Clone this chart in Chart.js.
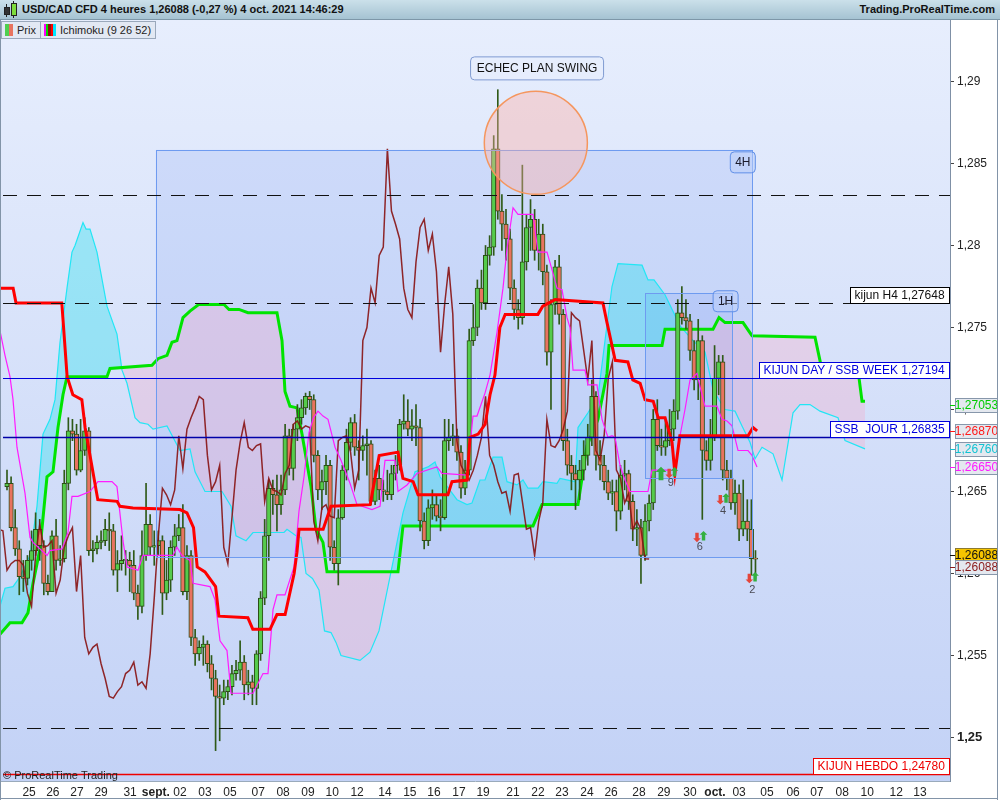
<!DOCTYPE html>
<html><head><meta charset="utf-8"><title>USD/CAD CFD 4 heures</title>
<script src="https://cdn.jsdelivr.net/npm/chart.js@4.4.1/dist/chart.umd.min.js"></script>
<style>
html,body{margin:0;padding:0;background:#fff;}
body{width:1000px;height:800px;position:relative;overflow:hidden;font-family:"Liberation Sans",Arial,Helvetica,sans-serif;}
#hdr{position:absolute;left:0;top:0;width:1000px;height:20px;background:linear-gradient(#cbe0ea,#a5c3d2);border-bottom:1px solid #7d97a8;box-sizing:border-box;font-weight:bold;font-size:11px;color:#111;z-index:2;}
#hdr .t1{position:absolute;left:22px;top:3px;white-space:nowrap;}
#hdr .t2{position:absolute;right:5px;top:3px;white-space:nowrap;}
.ico{position:absolute;width:4px;border:1px solid #222;}
.wk{position:absolute;width:1px;background:#222;}
#leg{position:absolute;left:1px;top:21px;height:18px;font-size:11px;color:#222;z-index:2;}
.btn{float:left;height:16px;line-height:16px;border:1px solid #9aa8bb;background:#e2e8f3;padding:0 4px 0 3px;margin-right:-1px;}
.sw{display:inline-block;height:12px;vertical-align:-2px;}
#cv{position:absolute;left:0;top:20px;}
</style></head>
<body>
<div id="hdr">
 <span class="wk" style="left:6px;top:4px;height:13px"></span>
 <span class="ico" style="left:4px;top:7px;height:6px;background:#333"></span>
 <span class="wk" style="left:13px;top:1px;height:17px"></span>
 <span class="ico" style="left:11px;top:3px;height:11px;background:#7ddc3c"></span>
 <span class="t1">USD/CAD CFD 4 heures 1,26088 (-0,27 %) 4 oct. 2021 14:46:29</span>
 <span class="t2">Trading.ProRealTime.com</span>
</div>
<canvas id="cv" width="1000" height="780"></canvas>
<div id="leg">
 <span class="btn"><span class="sw" style="width:4px;background:#4fcf4f"></span><span class="sw" style="width:4px;background:#e8735f;margin-right:4px"></span>Prix</span>
 <span class="btn"><span class="sw" style="width:2px;background:#ff00ff"></span><span class="sw" style="width:2px;background:#00dd00"></span><span class="sw" style="width:3px;background:#8b1010"></span><span class="sw" style="width:2px;background:#ff0000"></span><span class="sw" style="width:3px;background:#00e5ff;margin-right:4px"></span>Ichimoku (9 26 52)</span>
</div>
<script>
// ---------- DATA (USD/CAD 4h candles) ----------
const opens=[
1.2653,1.2655,1.2628,1.2615,1.2598,1.2597,1.2608,1.2614,1.2627,1.2617,
1.2594,1.2589,1.2623,1.2608,1.2609,1.2655,1.2687,1.2685,1.2663,1.2675,
1.2687,1.2614,1.2615,1.2619,1.2620,1.2627,1.2626,1.2602,1.2606,1.2608,
1.2608,1.2605,1.2588,1.2580,1.2611,1.2630,1.2616,1.2617,1.2620,1.2588,
1.2596,1.2616,1.2623,1.2628,1.2589,1.2611,1.2561,1.2551,1.2555,1.2557,
1.2545,1.2536,1.2525,1.2524,1.2528,1.2531,1.2539,1.2541,1.2546,1.2532,
1.2534,1.2530,1.2551,1.2585,1.2623,1.2652,1.2648,1.2642,1.2651,1.2684,
1.2664,1.2688,1.2695,1.2701,1.2708,1.2706,1.2672,1.2651,1.2656,1.2666,
1.2616,1.2606,1.2634,1.2663,1.2680,1.2692,1.2677,1.2675,1.2678,1.2679,
1.2644,1.2658,1.2651,1.2650,1.2648,1.2661,1.2666,1.2691,1.2693,1.2688,
1.2690,1.2689,1.2632,1.2620,1.2640,1.2642,1.2635,1.2634,1.2681,1.2683,
1.2684,1.2674,1.2652,1.2663,1.2742,1.2750,1.2774,1.2765,1.2794,1.2799,
1.2859,1.2821,1.2813,1.2804,1.2774,1.2761,1.2756,1.2790,1.2811,1.2816,
1.2797,1.2807,1.2784,1.2735,1.2764,1.2787,1.2758,1.2681,1.2666,1.2661,
1.2657,1.2663,1.2672,1.2683,1.2708,1.2672,1.2666,1.2656,1.2649,1.2650,
1.2638,1.2660,1.2661,1.2644,1.2627,1.2628,1.2611,1.2632,1.2643,1.2694,
1.2678,1.2677,1.2681,1.2688,1.2699,1.2759,1.2756,1.2754,1.2736,1.2718,
1.2742,1.2675,1.2669,1.2684,1.2719,1.2729,1.2663,1.2658,1.2643,1.2649,
1.2627,1.2632,1.2627,1.2609];
const highs=[
1.2663,1.2659,1.2639,1.2620,1.2608,1.2611,1.2626,1.2637,1.2633,1.2620,
1.2599,1.2626,1.2633,1.2617,1.2663,1.2695,1.2694,1.2691,1.2694,1.2695,
1.2689,1.2620,1.2623,1.2626,1.2633,1.2637,1.2630,1.2614,1.2623,1.2614,
1.2613,1.2614,1.2593,1.2626,1.2655,1.2636,1.2626,1.2626,1.2623,1.2608,
1.2620,1.2630,1.2636,1.2642,1.2617,1.2614,1.2566,1.2559,1.2562,1.2559,
1.2550,1.2541,1.2532,1.2535,1.2535,1.2544,1.2547,1.2559,1.2550,1.2541,
1.2538,1.2553,1.2589,1.2633,1.2657,1.2657,1.2660,1.2660,1.2691,1.2688,
1.2691,1.2703,1.2706,1.2710,1.2711,1.2709,1.2675,1.2663,1.2672,1.2669,
1.2620,1.2639,1.2666,1.2688,1.2695,1.2697,1.2681,1.2684,1.2688,1.2681,
1.2663,1.2666,1.2657,1.2663,1.2666,1.2672,1.2694,1.2709,1.2706,1.2700,
1.2703,1.2694,1.2637,1.2645,1.2651,1.2648,1.2645,1.2694,1.2694,1.2691,
1.2688,1.2678,1.2669,1.2749,1.2764,1.2779,1.2785,1.2800,1.2806,1.2867,
1.2895,1.2831,1.2822,1.2810,1.2779,1.2767,1.2849,1.2819,1.2828,1.2822,
1.2816,1.2813,1.2788,1.2767,1.2791,1.2794,1.2761,1.2688,1.2672,1.2666,
1.2669,1.2681,1.2691,1.2718,1.2711,1.2681,1.2672,1.2663,1.2657,1.2657,
1.2666,1.2669,1.2663,1.2648,1.2639,1.2633,1.2642,1.2648,1.2700,1.2706,
1.2688,1.2694,1.2700,1.2706,1.2767,1.2775,1.2767,1.2758,1.2742,1.2755,
1.2745,1.2681,1.2694,1.2739,1.2733,1.2733,1.2669,1.2663,1.2657,1.2654,
1.2657,1.2645,1.2645,1.2614];
const lows=[
1.2651,1.2626,1.2611,1.2587,1.2589,1.2593,1.2602,1.2611,1.2608,1.2587,
1.2587,1.2589,1.2602,1.2605,1.2607,1.2651,1.2681,1.2660,1.2662,1.2672,
1.2611,1.2607,1.2612,1.2615,1.2617,1.2614,1.2599,1.2589,1.2602,1.2599,
1.2589,1.2584,1.2572,1.2576,1.2608,1.2611,1.2605,1.2611,1.2575,1.2584,
1.2589,1.2611,1.2620,1.2587,1.2584,1.2556,1.2544,1.2547,1.2544,1.2540,
1.2529,1.2492,1.2498,1.2520,1.2523,1.2526,1.2535,1.2535,1.2523,1.2526,
1.2520,1.2520,1.2547,1.2581,1.2608,1.2636,1.2626,1.2636,1.2648,1.2660,
1.2657,1.2681,1.2691,1.2697,1.2700,1.2668,1.2645,1.2639,1.2648,1.2608,
1.2602,1.2593,1.2633,1.2657,1.2675,1.2672,1.2657,1.2669,1.2660,1.2642,
1.2642,1.2645,1.2644,1.2645,1.2645,1.2657,1.2663,1.2688,1.2684,1.2681,
1.2678,1.2626,1.2615,1.2617,1.2633,1.2632,1.2626,1.2633,1.2675,1.2678,
1.2669,1.2646,1.2648,1.2660,1.2739,1.2745,1.2761,1.2761,1.2788,1.2794,
1.2816,1.2797,1.2791,1.2767,1.2755,1.2749,1.2752,1.2785,1.2797,1.2791,
1.2785,1.2776,1.2727,1.2700,1.2758,1.2752,1.2675,1.2660,1.2651,1.2639,
1.2645,1.2657,1.2666,1.2678,1.2663,1.2657,1.2651,1.2645,1.2642,1.2626,
1.2633,1.2651,1.2639,1.2620,1.2617,1.2594,1.2608,1.2626,1.2639,1.2675,
1.2672,1.2672,1.2678,1.2681,1.2694,1.2752,1.2749,1.2730,1.2712,1.2706,
1.2633,1.2663,1.2663,1.2681,1.2709,1.2657,1.2651,1.2639,1.2636,1.2620,
1.2623,1.2620,1.2599,1.2597];
const closes=[
1.2655,1.2628,1.2615,1.2598,1.2597,1.2608,1.2614,1.2627,1.2617,1.2594,
1.2589,1.2623,1.2608,1.2609,1.2655,1.2687,1.2685,1.2663,1.2675,1.2687,
1.2614,1.2615,1.2619,1.2620,1.2627,1.2626,1.2602,1.2606,1.2608,1.2608,
1.2605,1.2588,1.2580,1.2611,1.2630,1.2616,1.2617,1.2620,1.2588,1.2596,
1.2616,1.2623,1.2628,1.2589,1.2611,1.2561,1.2551,1.2555,1.2557,1.2545,
1.2536,1.2525,1.2524,1.2528,1.2531,1.2539,1.2541,1.2546,1.2532,1.2534,
1.2530,1.2551,1.2585,1.2623,1.2652,1.2648,1.2642,1.2651,1.2684,1.2664,
1.2688,1.2695,1.2701,1.2708,1.2706,1.2672,1.2651,1.2656,1.2666,1.2616,
1.2606,1.2634,1.2663,1.2680,1.2692,1.2677,1.2675,1.2678,1.2679,1.2644,
1.2658,1.2651,1.2650,1.2648,1.2661,1.2666,1.2691,1.2693,1.2688,1.2690,
1.2689,1.2632,1.2620,1.2640,1.2642,1.2635,1.2634,1.2681,1.2683,1.2684,
1.2674,1.2652,1.2663,1.2742,1.2750,1.2774,1.2765,1.2794,1.2799,1.2859,
1.2821,1.2813,1.2804,1.2774,1.2761,1.2756,1.2790,1.2811,1.2816,1.2797,
1.2807,1.2784,1.2735,1.2764,1.2787,1.2758,1.2681,1.2666,1.2661,1.2657,
1.2663,1.2672,1.2683,1.2708,1.2672,1.2666,1.2656,1.2649,1.2650,1.2638,
1.2660,1.2661,1.2644,1.2627,1.2628,1.2611,1.2632,1.2643,1.2694,1.2678,
1.2677,1.2681,1.2688,1.2699,1.2759,1.2756,1.2754,1.2736,1.2718,1.2742,
1.2675,1.2669,1.2684,1.2719,1.2729,1.2663,1.2658,1.2643,1.2649,1.2627,
1.2632,1.2627,1.2609,1.26088];

// Ichimoku (9 26 52) lines: [candle index, price]
const kijun=[[-1.71,1.2774],[1.5,1.2774],[2.2,1.2765],[13.4,1.2765],[14.7,1.2720],[16.1,1.2709],[18.3,1.2706],[19.1,1.2689],[20.3,1.2672],[22.2,1.2645],[26.9,1.2644],[27.6,1.2641],[30.8,1.2640],[42.3,1.2639],[44.0,1.2637],[45.6,1.2628],[46.5,1.2604],[48.4,1.2601],[51.0,1.2592],[51.8,1.2574],[58.9,1.2573],[60.1,1.2566],[64.3,1.2566],[66.0,1.2575],[68.0,1.2575],[70.2,1.2600],[70.9,1.2613],[71.4,1.2627],[77.3,1.2627],[79.2,1.2641],[88.8,1.2642],[91.0,1.2672],[95.6,1.2674],[96.8,1.2658],[99.3,1.2656],[100.5,1.2648],[107.8,1.2648],[108.8,1.2656],[112.5,1.2657],[113.2,1.2683],[115.2,1.2685],[116.9,1.2691],[118.1,1.2709],[119.3,1.2721],[120.5,1.2750],[121.8,1.2758],[129.8,1.2758],[131.0,1.2763],[134.0,1.2767],[145.7,1.2765],[146.7,1.2753],[148.7,1.2730],[151.8,1.2729],[153.0,1.2718],[154.8,1.2716],[156.0,1.2706],[158.0,1.2705],[159.2,1.2695],[160.9,1.2695],[162.6,1.2680],[163.3,1.2661],[164.5,1.2684],[165.3,1.2684],[181.2,1.2684],[182.4,1.2689],[183.4,1.2687]];
const tenkan=[[-1.71,1.2748],[-0.49,1.2733],[0.73,1.2720],[1.47,1.2706],[2.44,1.2677],[4.40,1.2649],[5.62,1.2622],[6.36,1.2619],[9.78,1.2611],[10.51,1.2614],[13.45,1.2615],[14.91,1.2625],[15.89,1.2647],[17.36,1.2647],[20.29,1.2650],[22.25,1.2656],[25.67,1.2656],[26.89,1.2653],[28.36,1.2620],[29.34,1.2604],[32.03,1.2602],[33.25,1.2611],[40.59,1.2611],[41.56,1.2616],[42.79,1.2611],[44.74,1.2608],[45.48,1.2594],[49.63,1.2592],[50.86,1.2584],[52.08,1.2559],[53.79,1.2553],[54.77,1.2527],[60.15,1.2527],[62.59,1.2539],[63.81,1.2539],[65.04,1.2578],[66.01,1.2587],[67.97,1.2587],[70.17,1.2604],[71.39,1.2638],[72.62,1.2659],[73.84,1.2686],[74.94,1.2695],[76.04,1.2699],[77.26,1.2696],[78.48,1.2694],[80.20,1.2677],[81.66,1.2669],[83.86,1.2655],[85.57,1.2642],[89.24,1.2639],[91.20,1.2641],[92.42,1.2669],[94.87,1.2669],[95.60,1.2650],[97.80,1.2654],[100.24,1.2661],[103.91,1.2664],[105.13,1.2665],[106.36,1.2661],[112.47,1.2660],[113.94,1.2696],[114.91,1.2696],[116.87,1.2710],[118.09,1.2721],[119.80,1.2747],[121.27,1.2774],[122.25,1.2798],[123.72,1.2823],[124.94,1.2819],[128.61,1.2819],[129.83,1.2796],[132.03,1.2796],[133.50,1.2783],[134.47,1.2774],[135.70,1.2773],[136.92,1.2756],[137.65,1.2750],[138.39,1.2724],[141.32,1.2724],[142.05,1.2715],[144.25,1.2715],[145.48,1.2694],[146.94,1.2683],[147.92,1.2684],[148.66,1.2683],[149.88,1.2666],[151.10,1.2657],[152.32,1.2650],[156.72,1.2650],[157.70,1.2663],[163.33,1.2663],[164.55,1.2684],[165.77,1.2700],[166.99,1.2718],[168.70,1.2722],[169.44,1.2714],[170.66,1.2702],[173.59,1.2702],[174.82,1.2694],[176.04,1.2693],[177.26,1.2690],[178.73,1.2675],[181.17,1.2675],[182.15,1.2672],[183.37,1.2665]];
const ssa=[[-1.71,1.2580],[-0.49,1.2591],[1.47,1.2592],[3.18,1.2598],[5.62,1.2611],[7.33,1.2641],[8.80,1.2685],[10.51,1.2694],[11.74,1.2706],[12.96,1.2741],[14.67,1.2774],[15.89,1.2796],[16.63,1.2800],[18.58,1.2814],[19.32,1.2810],[20.29,1.2810],[22.00,1.2796],[24.45,1.2763],[26.89,1.2746],[28.12,1.2724],[29.34,1.2716],[31.30,1.2695],[32.52,1.2692],[34.47,1.2691],[35.70,1.2688],[39.12,1.2690],[42.30,1.2675],[44.74,1.2676],[45.97,1.2662],[48.41,1.2650],[52.57,1.2650],[54.77,1.2641],[55.99,1.2623],[58.44,1.2620],[60.15,1.2625],[67.73,1.2625],[68.46,1.2627],[70.66,1.2623],[71.88,1.2622],[73.11,1.2600],[74.69,1.2597],[76.28,1.2590],[77.63,1.2565],[79.22,1.2564],[80.44,1.2558],[81.66,1.2550],[86.31,1.2547],[88.75,1.2552],[90.95,1.2565],[96.82,1.2637],[99.76,1.2662],[102.93,1.2665],[104.65,1.2668],[105.87,1.2659],[110.02,1.2645],[112.47,1.2642],[113.69,1.2643],[115.65,1.2657],[116.87,1.2657],[118.83,1.2671],[121.03,1.2671],[122.25,1.2656],[124.69,1.2654],[126.16,1.2657],[127.38,1.2652],[129.83,1.2652],[131.05,1.2656],[134.47,1.2655],[135.21,1.2658],[138.88,1.2656],[139.61,1.2689],[142.05,1.2698],[144.50,1.2708],[146.21,1.2742],[147.92,1.2775],[149.39,1.2789],[155.26,1.2788],[156.72,1.2779],[158.19,1.2779],[160.88,1.2770],[164.55,1.2751],[167.73,1.2742],[170.66,1.2735],[172.62,1.2712],[175.55,1.2700],[178.00,1.2699],[179.71,1.2690],[181.66,1.2680],[182.89,1.2670],[184.60,1.2677],[187.29,1.2673],[189.49,1.2657],[192.18,1.2698],[193.89,1.2703],[196.33,1.2703],[198.78,1.2699],[203.18,1.2695],[204.89,1.2681],[209.78,1.2676]];
const ssb=[[-1.71,1.2563],[0.73,1.2570],[3.67,1.2570],[5.13,1.2576],[6.36,1.2594],[8.07,1.2615],[9.78,1.2659],[11.25,1.2662],[12.47,1.2689],[13.69,1.2709],[14.67,1.2720],[24.45,1.2720],[25.18,1.2725],[35.45,1.2727],[36.92,1.2731],[39.12,1.2733],[40.34,1.2741],[41.56,1.2742],[43.03,1.2756],[44.74,1.2760],[46.85,1.2764],[53.06,1.2764],[54.28,1.2761],[56.72,1.2761],[58.92,1.2759],[66.01,1.2759],[67.24,1.2742],[67.97,1.2711],[69.19,1.2702],[70.90,1.2701],[72.13,1.2685],[74.33,1.2653],[75.55,1.2627],[77.26,1.2619],[78.24,1.2601],[95.60,1.2601],[96.82,1.2629],[128.61,1.2629],[130.81,1.2642],[139.61,1.2642],[141.81,1.2678],[144.50,1.2694],[146.70,1.2722],[147.19,1.2739],[160.15,1.2739],[160.88,1.2749],[172.62,1.2749],[174.08,1.2756],[175.55,1.2753],[179.95,1.2753],[182.15,1.2745],[197.56,1.2744],[199.27,1.2724],[208.07,1.2724],[209.05,1.2705],[209.78,1.2705]];
const chikouShift=26;

// axes
const yTicks=[1.25,1.255,1.26,1.265,1.27,1.275,1.28,1.285,1.29];
const xTickIdx=[5.4,11.2,17.1,23.0,30.1,36.4,42.3,48.4,54.5,61.4,67.5,73.6,79.5,85.6,92.4,98.5,104.4,110.5,116.4,123.7,129.8,135.7,141.8,147.7,154.5,160.6,167.0,173.1,179.0,185.8,192.2,198.0,204.2,210.3,217.4,223.2];
const xTickLabels=['25','26','27','29','31','sept.','02','03','05','07','08','09','10','12','14','15','16','17','19','21','22','23','24','26','28','29','30','oct.','03','05','06','07','08','10','12','13'];

// drawn objects
const levelValues=[1.28308,1.27648,1.27194,1.26835,1.25058,1.24780];
const levelLabels=['','kijun H4 1,27648','KIJUN DAY / SSB WEEK 1,27194','SSB  JOUR 1,26835','','KIJUN HEBDO 1,24780'];
const boxLeft=[36.4,156.0], boxRight=[182.2,177.3], boxTop=[1.28583,1.2771], boxBottom=[1.2610,1.2658];
const boxTagText=['4H','1H'], boxTagIdx=[179.9,175.7], boxTagPrice=[1.28507,1.2766];
const noteText=['ECHEC PLAN SWING'], noteIdx=[129.6], notePrice=[1.2908];
const circleIdx=[129.3], circlePrice=[1.28626], circleRadiusIdx=[12.6];
const sigIdx=[159.9,161.9,163.2,168.7,170.3,174.4,175.8,181.5,182.9];
const sigPrice=[1.2661,1.2661,1.2662,1.2622,1.2623,1.2645,1.2646,1.2597,1.2598];
const sigDir=['up','down','up','down','up','down','up','down','up'];
const cntIdx=[162.3,169.4,175.1,182.2], cntPrice=[1.2655,1.2616,1.2638,1.2590], cntText=['9','6','4','2'];
const tagValues=[1.27053,1.26870,1.26760,1.26650,1.26088,1.26088];

// ---------- STYLES ----------
const FONT='"Liberation Sans", Arial, Helvetica, sans-serif';
Chart.defaults.font.family=FONT; Chart.defaults.font.size=12; Chart.defaults.color='#222';
const BULL='#55cb4b', BEAR='#e8735f', EDGE='#2c4e16', WICK='#2f5a18';
const levelStyle=[
 {c:'#111',w:1,d:[14,10],t:'#111'},
 {c:'#111',w:1,d:[14,10],t:'#111'},
 {c:'#0000dd',w:1,d:[],t:'#0000dd'},
 {c:'#0000a8',w:1.5,d:[],t:'#0000dd'},
 {c:'#111',w:1,d:[14,10],t:'#111'},
 {c:'#ee0000',w:1.5,d:[],t:'#ee0000'}];
const tagColor=['#00cc00','#ff1a1a','#10c2d2','#ff1aff','#111111','#8b1a1a'];
const tagFill=['#e4e8ef','#e4e8ef','#e4e8ef','#e4e8ef','#f5c400','#e4e8ef'];
const tagShift=[4,0,0,0,-4,8];

const fmt5=v=>v.toFixed(5).replace('.',',');
const fmtTick=v=>String(+v.toFixed(3)).replace('.',',');
const pts=a=>a.map(p=>({x:p[0],y:p[1]}));
const N=closes.length;
const wickData=[],bodyData=[],bodyCol=[];
for(let i=0;i<N;i++){
  wickData.push({x:i,y:[lows[i],highs[i]]});
  bodyData.push({x:i,y:[opens[i],closes[i]]});
  bodyCol.push(closes[i]>=opens[i]?BULL:BEAR);
}
const chikouData=closes.map((c,i)=>({x:i-chikouShift,y:c}));

function rrect(ctx,x,y,w,h,r){
  ctx.beginPath();ctx.moveTo(x+r,y);ctx.lineTo(x+w-r,y);ctx.quadraticCurveTo(x+w,y,x+w,y+r);
  ctx.lineTo(x+w,y+h-r);ctx.quadraticCurveTo(x+w,y+h,x+w-r,y+h);ctx.lineTo(x+r,y+h);
  ctx.quadraticCurveTo(x,y+h,x,y+h-r);ctx.lineTo(x,y+r);ctx.quadraticCurveTo(x,y,x+r,y);ctx.closePath();
}
function arrow(ctx,x,y,dir,s){
  const w=4*s,h=5*s,st=1.8*s;
  ctx.beginPath();
  if(dir==='up'){
    ctx.moveTo(x,y-h);ctx.lineTo(x+w,y-h+w);ctx.lineTo(x+st,y-h+w);ctx.lineTo(x+st,y+h);
    ctx.lineTo(x-st,y+h);ctx.lineTo(x-st,y-h+w);ctx.lineTo(x-w,y-h+w);
  }else{
    ctx.moveTo(x,y+h);ctx.lineTo(x+w,y+h-w);ctx.lineTo(x+st,y+h-w);ctx.lineTo(x+st,y-h);
    ctx.lineTo(x-st,y-h);ctx.lineTo(x-st,y+h-w);ctx.lineTo(x-w,y+h-w);
  }
  ctx.closePath();ctx.fill();
}

const deco={
 id:'deco',
 beforeDraw(c){
   const {ctx,chartArea:a}=c;
   ctx.save();
   ctx.fillStyle='#fff';ctx.fillRect(0,0,c.width,c.height);
   const g=ctx.createLinearGradient(0,a.top,0,a.bottom);
   g.addColorStop(0,'#e7eefd');g.addColorStop(1,'#c3d2f6');
   ctx.fillStyle=g;ctx.fillRect(a.left,a.top,a.right-a.left,a.bottom-a.top);
   ctx.restore();
 },
 beforeDatasetsDraw(c){
   const {ctx,chartArea:a}=c,xs=c.scales.x,ys=c.scales.y;
   ctx.save();ctx.beginPath();ctx.rect(a.left,a.top,a.right-a.left,a.bottom-a.top);ctx.clip();
   for(let k=0;k<boxLeft.length;k++){
     const x0=xs.getPixelForValue(boxLeft[k]),x1=xs.getPixelForValue(boxRight[k]);
     const y0=ys.getPixelForValue(boxTop[k]),y1=ys.getPixelForValue(boxBottom[k]);
     ctx.fillStyle='rgba(105,145,245,0.16)';ctx.fillRect(x0,y0,x1-x0,y1-y0);
   }
   ctx.restore();
 },
 afterDatasetsDraw(c){
   const {ctx,chartArea:a}=c,xs=c.scales.x,ys=c.scales.y;
   ctx.save();ctx.beginPath();ctx.rect(a.left,a.top,a.right-a.left,a.bottom-a.top);ctx.clip();
   ctx.strokeStyle='#6e9bf0';ctx.lineWidth=1;
   for(let k=0;k<boxLeft.length;k++){
     const x0=Math.round(xs.getPixelForValue(boxLeft[k]))+0.5,x1=Math.round(xs.getPixelForValue(boxRight[k]))+0.5;
     const y0=Math.round(ys.getPixelForValue(boxTop[k]))+0.5,y1=Math.round(ys.getPixelForValue(boxBottom[k]))+0.5;
     ctx.strokeRect(x0,y0,x1-x0,y1-y0);
   }
   for(let k=0;k<circleIdx.length;k++){
     const cx=xs.getPixelForValue(circleIdx[k]),cy=ys.getPixelForValue(circlePrice[k]);
     const r=Math.abs(xs.getPixelForValue(circleIdx[k]+circleRadiusIdx[k])-cx);
     ctx.beginPath();ctx.arc(cx,cy,r,0,Math.PI*2);
     ctx.fillStyle='rgba(255,176,166,0.40)';ctx.fill();
     ctx.strokeStyle='#f5965e';ctx.lineWidth=1.5;ctx.stroke();
   }
   ctx.font='12px '+FONT;ctx.textBaseline='middle';
   for(let k=0;k<levelValues.length;k++){
     const s=levelStyle[k];const y=Math.round(ys.getPixelForValue(levelValues[k]))+0.5;
     ctx.strokeStyle=s.c;ctx.lineWidth=s.w;ctx.setLineDash(s.d);
     ctx.beginPath();ctx.moveTo(a.left+3,y);ctx.lineTo(a.right,y);ctx.stroke();ctx.setLineDash([]);
   }
   for(let k=0;k<levelValues.length;k++){
     if(!levelLabels[k])continue;
     const s=levelStyle[k];const y=Math.round(ys.getPixelForValue(levelValues[k]))+0.5;
     const w=Math.ceil(ctx.measureText(levelLabels[k]).width)+8;
     const x0=a.right-w-0.5;
     ctx.fillStyle='#fff';ctx.fillRect(x0,y-16,w,16);
     ctx.strokeStyle=s.c==='#111'?'#000':s.t;ctx.lineWidth=1;ctx.strokeRect(x0,y-16,w,16);
     ctx.fillStyle=s.t;ctx.textAlign='left';ctx.fillText(levelLabels[k],x0+4,y-7.5);
   }
   for(let k=0;k<boxTagText.length;k++){
     const x=xs.getPixelForValue(boxTagIdx[k]),y=ys.getPixelForValue(boxTagPrice[k]);
     const w=Math.ceil(ctx.measureText(boxTagText[k]).width)+9,h=21;
     rrect(ctx,x-w/2,y-h/2,w,h,4);ctx.fillStyle='rgba(185,205,250,0.55)';ctx.fill();
     ctx.strokeStyle='#5f8fe8';ctx.lineWidth=1;ctx.stroke();
     ctx.fillStyle='#1a1a2a';ctx.textAlign='center';ctx.fillText(boxTagText[k],x,y+0.5);
   }
   for(let k=0;k<noteText.length;k++){
     const x=xs.getPixelForValue(noteIdx[k]),y=ys.getPixelForValue(notePrice[k]);
     const w=Math.ceil(ctx.measureText(noteText[k]).width)+12,h=23;
     rrect(ctx,x-w/2,y-h/2,w,h,4);ctx.fillStyle='rgba(230,237,253,0.9)';ctx.fill();
     ctx.strokeStyle='#7f9bd2';ctx.lineWidth=1;ctx.stroke();
     ctx.fillStyle='#111';ctx.textAlign='center';ctx.fillText(noteText[k],x,y+0.5);
   }
   for(let k=0;k<sigIdx.length;k++){
     const x=xs.getPixelForValue(sigIdx[k]),y=ys.getPixelForValue(sigPrice[k]);
     ctx.fillStyle=sigDir[k]==='up'?'#33b040':'#e4453a';
     arrow(ctx,x,y,sigDir[k],k===0?1.35:0.95);
   }
   ctx.font='11px '+FONT;ctx.fillStyle='#4a4a55';ctx.textAlign='center';
   for(let k=0;k<cntText.length;k++){
     ctx.fillText(cntText[k],xs.getPixelForValue(cntIdx[k]),ys.getPixelForValue(cntPrice[k]));
   }
   ctx.restore();
 },
 afterDraw(c){
   const {ctx,chartArea:a}=c,ys=c.scales.y;
   ctx.save();
   ctx.font='12px '+FONT;ctx.textBaseline='middle';ctx.textAlign='center';
   for(let k=0;k<tagValues.length;k++){
     const y=Math.round(ys.getPixelForValue(tagValues[k]))+tagShift[k];
     ctx.strokeStyle=tagColor[k];ctx.lineWidth=1;
     ctx.beginPath();ctx.moveTo(a.right,y+0.5);ctx.lineTo(a.right+5,y+0.5);ctx.stroke();
     ctx.fillStyle=tagFill[k];ctx.fillRect(a.right+5.5,y-6.5,42,14);
     ctx.strokeStyle=k===4?'#8c7a30':'#8797ab';ctx.strokeRect(a.right+5.5,y-6.5,42,14);
     ctx.fillStyle=tagColor[k];ctx.fillText(fmt5(tagValues[k]),a.right+26.5,y+1);
   }
   ctx.font='11px '+FONT;ctx.textAlign='left';ctx.fillStyle='#222';
   ctx.fillText('\u00a9 ProRealTime Trading',3,a.bottom-5);
   ctx.strokeStyle='#8294a8';ctx.lineWidth=1;
   ctx.beginPath();ctx.moveTo(0.5,0);ctx.lineTo(0.5,c.height);
   ctx.moveTo(997.5,0);ctx.lineTo(997.5,c.height);
   ctx.moveTo(0,c.height-1.5);ctx.lineTo(998,c.height-1.5);ctx.stroke();
   ctx.restore();
 }
};

new Chart(document.getElementById('cv'),{
 type:'bar',
 data:{datasets:[
  {type:'line',label:'SSA',data:pts(ssa),borderColor:'#22e6f5',borderWidth:1.2,pointRadius:0,tension:0,
   fill:{target:1,above:'rgba(0,225,235,0.30)',below:'rgba(250,165,195,0.30)'},order:10},
  {type:'line',label:'SSB',data:pts(ssb),borderColor:'#00e400',borderWidth:3,pointRadius:0,tension:0,fill:false,order:9},
  {type:'bar',label:'wick',data:wickData,backgroundColor:WICK,borderWidth:0,barThickness:1,grouped:false,order:8},
  {type:'bar',label:'Prix',data:bodyData,backgroundColor:bodyCol,borderColor:EDGE,borderWidth:1,borderSkipped:false,
   barThickness:4.5,minBarLength:1,grouped:false,order:7},
  {type:'line',label:'Chikou',data:chikouData,borderColor:'rgba(135,18,18,0.9)',borderWidth:1.5,pointRadius:0,tension:0,fill:false,order:4},
  {type:'line',label:'Tenkan',data:pts(tenkan),borderColor:'#ff1cff',borderWidth:1.2,pointRadius:0,tension:0,fill:false,order:3},
  {type:'line',label:'Kijun',data:pts(kijun),borderColor:'#ff0000',borderWidth:3,pointRadius:0,tension:0,fill:false,order:2}
 ]},
 options:{
  responsive:false,animation:false,
  layout:{padding:0},
  plugins:{legend:{display:false},tooltip:{enabled:false}},
  scales:{
   x:{type:'linear',min:-1.711,max:230.56,offset:false,
      afterBuildTicks:s=>{s.ticks=xTickIdx.map(v=>({value:v}));},
      afterFit:s=>{s.height=19;s.paddingLeft=0;s.paddingRight=0;},
      grid:{drawOnChartArea:false,drawTicks:false},
      border:{display:true,color:'#9aaabb'},
      ticks:{autoSkip:false,maxRotation:0,minRotation:0,padding:4,color:'#222',
        callback:(v,i)=>xTickLabels[i],
        font:c=>({family:FONT,size:12,weight:(xTickLabels[c.index]==='sept.'||xTickLabels[c.index]==='oct.')?'bold':'normal'})}},
   y:{type:'linear',position:'right',min:1.247348,max:1.29375,
      afterBuildTicks:s=>{s.ticks=yTicks.map(v=>({value:v}));},
      afterFit:s=>{s.width=50;s.paddingTop=0;s.paddingBottom=0;},
      grid:{drawOnChartArea:false,drawTicks:true,tickLength:4,color:'#444'},
      border:{display:true,color:'#7f90a6'},
      ticks:{autoSkip:false,padding:3,color:'#222',callback:v=>fmtTick(v),
        font:c=>({family:FONT,size:(c.tick&&c.tick.value===1.25)?13:12,weight:(c.tick&&c.tick.value===1.25)?'bold':'normal'})}}
  }
 },
 plugins:[deco]
});
</script>
</body></html>
